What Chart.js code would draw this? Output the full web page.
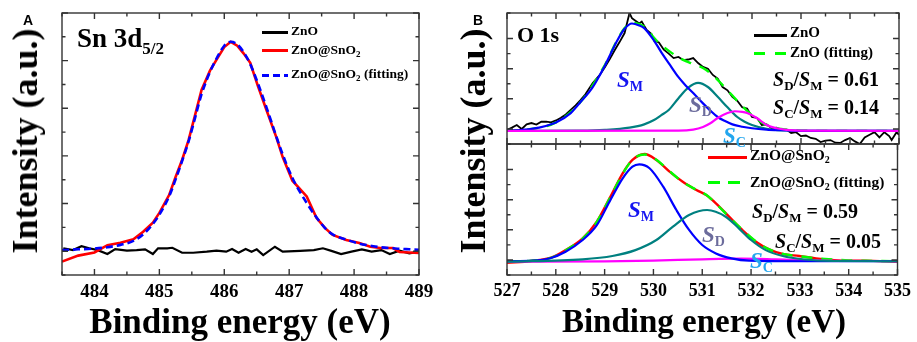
<!DOCTYPE html>
<html>
<head>
<meta charset="utf-8">
<script src="https://cdn.jsdelivr.net/npm/chart.js@4.4.1/dist/chart.umd.min.js"></script>
<style>
  body { margin: 0; background: #fff; }
  #wrap { position: relative; width: 917px; height: 342px; overflow: hidden; background: #fff; }
  canvas { position: absolute; }
  .t { position: absolute; line-height: 1; white-space: nowrap; font-family: 'Liberation Serif', 'Times New Roman', serif; font-weight: bold; color: #000; z-index: 5; }
  .t sub { vertical-align: baseline; position: relative; }
  .panel { font-family: 'Liberation Sans', Arial, sans-serif; font-size: 14px; }
  .ytitle { font-size: 36px; transform: translate(-50%, -50%) rotate(-90deg); }
  .xtitle { transform: translateX(-50%); }
  .lg { position: absolute; height: 2.5px; z-index: 5; }
  .s { font-style: italic; }
</style>
</head>
<body>
<div id="wrap">
  <canvas id="chartA" width="440" height="342" style="left:0;top:0"></canvas>
  <canvas id="chartB1" width="457" height="160" style="left:460px;top:0"></canvas>
  <canvas id="chartB2" width="457" height="212" style="left:460px;top:130px"></canvas>

  <!-- panel A texts -->
  <div class="t panel" style="left:23px;top:13px">A</div>
  <div class="t" style="left:77px;top:25px;font-size:27px">Sn 3d<sub style="font-size:17px;top:7px">5/2</sub></div>
  <div class="lg" style="left:262px;top:31px;width:26px;background:#000"></div>
  <div class="lg" style="left:262px;top:49px;width:26px;background:#f00"></div>
  <div class="lg" style="left:262px;top:74px;width:26px;background:repeating-linear-gradient(to right,#00f 0 7px,transparent 7px 11px)"></div>
  <div class="t" style="left:291px;top:24px;font-size:13.5px">ZnO</div>
  <div class="t" style="left:291px;top:43px;font-size:13.5px">ZnO@SnO<sub style="font-size:9px;top:3px">2</sub></div>
  <div class="t" style="left:291px;top:67px;font-size:13.5px">ZnO@SnO<sub style="font-size:9px;top:3px">2</sub> (fitting)</div>
  <div class="t ytitle" style="left:25px;top:141px">Intensity (a.u.)</div>
  <div class="t xtitle" style="left:240px;top:304px;font-size:35px">Binding energy (eV)</div>

  <!-- panel B texts -->
  <div class="t panel" style="left:473px;top:13px">B</div>
  <div class="t" style="left:517px;top:24px;font-size:22px">O 1s</div>
  <div class="lg" style="left:754px;top:34px;width:33px;background:#000"></div>
  <div class="lg" style="left:754px;top:52px;width:33px;background:repeating-linear-gradient(to right,#00ff00 0 11px,transparent 11px 21px)"></div>
  <div class="t" style="left:790px;top:25px;font-size:15px">ZnO</div>
  <div class="t" style="left:790px;top:45px;font-size:15px">ZnO (fitting)</div>
  <div class="t" style="left:773px;top:69px;font-size:20px"><span class="s">S</span><sub style="font-size:13px;top:4px">D</sub>/<span class="s">S</span><sub style="font-size:13px;top:4px">M</sub> = 0.61</div>
  <div class="t" style="left:773px;top:97px;font-size:20px"><span class="s">S</span><sub style="font-size:13px;top:4px">C</sub>/<span class="s">S</span><sub style="font-size:13px;top:4px">M</sub> = 0.14</div>
  <div class="t" style="left:617px;top:68px;font-size:23px;color:#1414f0"><span class="s">S</span><sub style="font-size:14px;top:4px">M</sub></div>
  <div class="t" style="left:689px;top:93px;font-size:23px;color:#6c6c9c"><span class="s">S</span><sub style="font-size:14px;top:4px">D</sub></div>
  <div class="t" style="left:723px;top:124px;font-size:23px;color:#23a6ee"><span class="s">S</span><sub style="font-size:14px;top:4px">C</sub></div>

  <div class="lg" style="left:708px;top:156px;width:39px;background:#f00"></div>
  <div class="lg" style="left:708px;top:181px;width:39px;background:repeating-linear-gradient(to right,#00ff00 0 12px,transparent 12px 20px)"></div>
  <div class="t" style="left:750px;top:147px;font-size:15.5px">ZnO@SnO<sub style="font-size:10px;top:3px">2</sub></div>
  <div class="t" style="left:750px;top:174px;font-size:15.5px">ZnO@SnO<sub style="font-size:10px;top:3px">2</sub> (fitting)</div>
  <div class="t" style="left:752px;top:201px;font-size:20px"><span class="s">S</span><sub style="font-size:13px;top:4px">D</sub>/<span class="s">S</span><sub style="font-size:13px;top:4px">M</sub> = 0.59</div>
  <div class="t" style="left:775px;top:231px;font-size:20px"><span class="s">S</span><sub style="font-size:13px;top:4px">C</sub>/<span class="s">S</span><sub style="font-size:13px;top:4px">M</sub> = 0.05</div>
  <div class="t" style="left:628px;top:198px;font-size:23px;color:#1414f0"><span class="s">S</span><sub style="font-size:14px;top:4px">M</sub></div>
  <div class="t" style="left:702px;top:223px;font-size:23px;color:#6c6c9c"><span class="s">S</span><sub style="font-size:14px;top:4px">D</sub></div>
  <div class="t" style="left:750px;top:249px;font-size:23px;color:#23a6ee"><span class="s">S</span><sub style="font-size:14px;top:4px">C</sub></div>
  <div class="t ytitle" style="left:473px;top:141px">Intensity (a.u.)</div>
  <div class="t xtitle" style="left:704px;top:305px;font-size:33px">Binding energy (eV)</div>
</div>

<script>
/* ---- DATA : panel A, Sn 3d5/2 ---- */
const aTickLabels = [484, 485, 486, 487, 488, 489];

const snEv = [483.5, 483.75, 484.0, 484.2, 484.4, 484.6, 484.75, 484.9, 485.0, 485.15, 485.25, 485.35, 485.45,
  485.55, 485.65, 485.78, 485.9, 486.0, 486.1, 486.2, 486.3, 486.4, 486.52, 486.65, 486.8, 486.9, 487.05,
  487.27, 487.42, 487.55, 487.67, 487.88, 488.08, 488.25, 488.4, 488.6, 488.7, 488.85, 489.0];
const snRaw = [5.1, 7.4, 8.6, 11.4, 12.3, 13.6, 16.5, 20.0, 23.7, 30.5, 37.4, 43.9, 51.5,
  61, 70.6, 78, 83, 87, 89, 87.5, 84.5, 81, 72, 63, 52.7, 45, 36,
  30, 21.8, 18, 15.3, 13.4, 12.2, 10.8, 10.3, 10.3, 8.8, 8.6, 8.4];
const snFit = [9.5, 9.8, 10.1, 10.6, 11.5, 13, 15.5, 19.5, 23, 30, 36.5, 43.5, 51,
  60, 69, 77.5, 83.5, 87.5, 89, 88, 85, 80.5, 73, 64, 53, 46, 37,
  27.5, 22, 18, 15.5, 13.5, 12, 11.2, 10.6, 10.2, 10, 9.8, 9.6];

const znoEvA = [483.52, 483.67, 483.8, 483.92, 484.05, 484.2, 484.32, 484.5, 484.65, 484.78, 484.9, 484.98,
  485.12, 485.2, 485.35, 485.52, 485.73, 485.88, 486.03, 486.12, 486.22, 486.33, 486.42, 486.5, 486.6,
  486.78, 486.9, 487.17, 487.38, 487.52, 487.65, 487.8, 487.96, 488.12, 488.27, 488.42, 488.55, 488.7,
  488.85, 489.0];
const znoRawA = [10.2, 9.5, 11, 10.2, 9.5, 8, 9.9, 9.3, 9.5, 9.8, 8, 10.2,
  10.2, 10.4, 8.5, 8.5, 8.9, 9.3, 8.9, 9.9, 8.5, 9.9, 8.9, 9.8, 7.6,
  10.8, 8.9, 9.2, 9.5, 10.2, 9.2, 8, 8.9, 9.8, 8.9, 9.5, 8, 9.3,
  8.3, 8.9];

/* ---- DATA : panel B, O 1s ---- */
const bTickLabels = [527, 528, 529, 530, 531, 532, 533, 534, 535];

// ZnO (top)
const oZnoEv = [527.0, 527.1, 527.2, 527.3, 527.4, 527.5, 527.6, 527.7, 527.8, 527.9, 528.0, 528.1, 528.2,
  528.3, 528.4, 528.5, 528.6, 528.75, 528.9, 529.0, 529.1, 529.2, 529.3, 529.4, 529.5, 529.55, 529.6,
  529.7, 529.75, 529.85, 529.95, 530.0, 530.1, 530.2, 530.3, 530.4, 530.5, 530.6, 530.7, 530.8, 530.9,
  531.0, 531.1, 531.2, 531.3, 531.4, 531.5, 531.6, 531.7, 531.8, 531.9, 532.0, 532.1, 532.2, 532.3,
  532.4, 532.5, 532.6, 532.7, 532.8, 532.9, 533.0, 533.1, 533.2, 533.3, 533.4, 533.5, 533.6, 533.7,
  533.8, 533.9, 534.0, 534.1, 534.2, 534.3, 534.4, 534.5, 534.6, 534.7, 534.8, 534.85, 534.95, 535.0];
const oZnoRaw = [10.7, 12.5, 14.5, 11.5, 15, 16, 14.8, 17, 17, 16.5, 18, 20, 22.5,
  26, 29.5, 33.6, 38, 46.6, 53, 58.8, 65, 71.8, 78, 84.7, 100, 96, 94.7,
  92, 93.5, 87, 84, 79, 77.5, 72, 69, 65.6, 66.5, 64, 64.5, 65.6, 61.8,
  58.8, 57.5, 52.7, 50, 43.5, 41, 35.9, 33, 28, 27, 20.6, 20, 14.5, 15,
  12, 12.5, 10.7, 11, 8.4, 9, 6, 6.5, 4.6, 4, 1.5, 2.5, 3, 1,
  0.8, 3, 4.6, 2, 0, 5, 7, 9, 5, 9, 6, 3, 9, 7];

const oZnoFitEv = [527.0, 527.5, 528.0, 528.5, 529.0, 529.25, 529.4, 529.55, 529.7, 529.85, 530.0, 530.2,
  530.4, 530.5, 530.8, 531.0, 531.2, 531.4, 531.6, 531.8, 532.0, 532.2, 532.4, 532.6, 532.8, 533.0,
  533.5, 535.0];
const oZnoFit = [10, 11.5, 16.5, 32, 60.5, 79.5, 88.5, 92.5, 91.5, 88, 81, 74,
  68.5, 66, 61, 58, 52.5, 45, 37, 29, 22, 16.5, 13, 11.5, 10.6, 10.2,
  10, 10];

const smEvTop = [527.0, 527.5, 528.0, 528.3, 528.5, 528.75, 529.0, 529.25, 529.4, 529.55, 529.7, 529.8, 530.0,
  530.15, 530.3, 530.5, 530.65, 530.8, 531.0, 531.15, 531.3, 531.45, 531.6, 531.8, 532.0, 532.3, 532.6,
  533.0, 535.0];
const smTop = [10, 11.5, 16.5, 23.6, 32, 43.5, 60, 79, 88, 92, 90.5, 88.5, 79,
  70, 61.8, 51, 44.5, 38.9, 31, 25.5, 20.6, 17.5, 15, 13.2, 12, 11, 10.5,
  10, 10];
const sdEvTop = [527.0, 528.5, 529.0, 529.5, 529.8, 530.0, 530.15, 530.3, 530.5, 530.7, 530.9, 531.1, 531.3,
  531.5, 531.7, 531.85, 532.0, 532.3, 532.7, 533.0, 535.0];
const sdTop = [10, 10.2, 10.8, 12.5, 15, 18.3, 22, 26, 35, 43, 46.6, 43.5, 36,
  28, 20.6, 17, 14.5, 11.5, 10.3, 10, 10];
const scEvTop = [527.0, 530.5, 530.8, 531.0, 531.15, 531.3, 531.5, 531.65, 531.8, 531.9, 532.1, 532.3, 532.5,
  532.7, 533.0, 535.0];
const scTop = [10, 10.2, 11, 13, 15.8, 19.8, 23.6, 25, 24.5, 23.6, 19.8, 14.5, 12,
  10.8, 10.2, 10];

// ZnO@SnO2 (bottom)
const oSnEv = [527.0, 527.5, 527.9, 528.2, 528.55, 528.84, 529.1, 529.37, 529.57, 529.82, 530.06, 530.33,
  530.6, 530.88, 531.08, 531.28, 531.55, 531.82, 532.1, 532.37, 532.65, 532.99, 533.33, 534.0, 534.5, 535.0];
const oSnRaw = [9.4, 10.7, 13.2, 19, 28, 40.7, 58.5, 77.6, 87.8, 92.4, 87.8, 78.9,
  71.2, 64.9, 61, 54.7, 44.5, 34.4, 25.4, 19.6, 16, 14.5, 12.7, 10.9, 10.8, 10.2];
const oSnFit = [10.4, 10.9, 13.0, 18.8, 27.8, 40.5, 58.2, 77.2, 88, 92, 88, 79.2,
  71, 65, 61.2, 54.5, 44.3, 34.6, 25.6, 19.5, 16.1, 14.3, 12.8, 11.2, 10.8, 10.5];

const smEvBot = [527.0, 527.53, 527.9, 528.2, 528.55, 528.84, 529.1, 529.37, 529.57, 529.71, 529.92, 530.2,
  530.47, 530.73, 531.0, 531.28, 531.6, 531.96, 533.0, 535.0];
const smBot = [10.5, 10.9, 13, 17.8, 26.7, 38, 56, 73.8, 82.7, 84.5, 81.5, 67.4,
  49.6, 34.4, 22.9, 16.5, 12.7, 10.9, 10.5, 10.5];
const sdEvBot = [527.0, 528.55, 529.16, 529.63, 530.06, 530.4, 530.73, 531.1, 531.48, 531.75, 532.0, 532.3,
  532.65, 533.06, 533.67, 535.0];
const sdBot = [10.2, 12, 14.5, 19, 26.7, 36.9, 45.8, 49.6, 44.5, 35.6, 26.7, 19,
  14.5, 12, 10.7, 10.5];
const scEvBot = [527.0, 529.0, 530.0, 531.0, 531.8, 532.5, 533.5, 535.0];
const scBot = [10.2, 10.4, 11, 12, 12.5, 12, 11, 10.6];

/* ---- STYLE HELPERS ---- */
const SERIF = "'Liberation Serif', 'Times New Roman', serif";
const pts = (xs, ys) => xs.map((x, i) => ({ x, y: ys[i] }));

function line(data, color, width, extra) {
  return Object.assign({
    data, borderColor: color, borderWidth: width, pointRadius: 0, fill: false, tension: 0
  }, extra || {});
}
const smooth = { cubicInterpolationMode: 'monotone' };

// frame + inward ticks on all four sides, from the chart's own scales
const frameTicks = {
  id: 'frameTicks',
  afterDraw(chart) {
    const { ctx, chartArea: a, scales: { x, y } } = chart;
    ctx.save();
    ctx.strokeStyle = '#333';
    ctx.lineWidth = 1.4;
    ctx.beginPath();
    x.ticks.forEach(t => {
      const px = x.getPixelForValue(t.value);
      const len = Number.isInteger(t.value) ? 6 : 3.5;
      ctx.moveTo(px, a.bottom); ctx.lineTo(px, a.bottom - len);
      ctx.moveTo(px, a.top); ctx.lineTo(px, a.top + len);
    });
    y.ticks.forEach((t, i) => {
      const py = y.getPixelForValue(t.value);
      const len = i % 2 ? 6 : 3.5;
      ctx.moveTo(a.left, py); ctx.lineTo(a.left + len, py);
      ctx.moveTo(a.right, py); ctx.lineTo(a.right - len, py);
    });
    ctx.stroke();
    ctx.strokeRect(a.left, a.top, a.right - a.left, a.bottom - a.top);
    ctx.restore();
  }
};

function buildChart(id, datasets, o) {
  return new Chart(document.getElementById(id), {
    type: 'line',
    data: { datasets },
    plugins: [frameTicks],
    options: {
      responsive: false, animation: false, devicePixelRatio: 1,
      layout: { padding: o.padding },
      plugins: { legend: { display: false }, tooltip: { enabled: false } },
      scales: {
        x: {
          type: 'linear', min: o.xMin, max: o.xMax,
          // fixed height so the tick labels have room (labels are clipped to the scale box)
          afterFit: s => { s.height = o.xHeight; },
          grid: { display: false, drawTicks: false }, border: { display: false },
          ticks: {
            display: o.showX, stepSize: 0.5, autoSkip: false, maxRotation: 0, padding: o.tickPad,
            color: '#000', font: { family: SERIF, weight: 'bold', size: o.tickSize },
            callback: v => o.labels.includes(v) ? String(v) : ''
          }
        },
        y: {
          min: 0, max: 100,
          afterFit: s => { s.width = 0; },
          grid: { display: false, drawTicks: false }, border: { display: false },
          ticks: Object.assign({ display: false }, o.yTicks)
        }
      }
    }
  });
}

/* ---- PANEL A ---- */
buildChart('chartA', [
  line(pts(snEv, snFit), '#0000ff', 2.6, Object.assign({ borderDash: [7, 4] }, smooth)),
  line(pts(snEv, snRaw), '#ff0000', 2.6),
  line(pts(znoEvA, znoRawA), '#000000', 2.2)
], {
  padding: { left: 62, top: 13, right: 21, bottom: 0 }, xHeight: 67,
  xMin: 483.5, xMax: 489, showX: true, tickPad: 6, tickSize: 19,
  labels: aTickLabels, yTicks: { count: 12 }
});

/* ---- PANEL B, top: ZnO ---- */
buildChart('chartB1', [
  line(pts(scEvTop, scTop), '#ff00ff', 2.2, smooth),
  line(pts(smEvTop, smTop), '#0000ff', 2.2, smooth),
  line(pts(sdEvTop, sdTop), '#008080', 2.2, smooth),
  line(pts(oZnoFitEv, oZnoFit), '#00ff00', 2.4, Object.assign({ borderDash: [11, 9] }, smooth)),
  line(pts(oZnoEv, oZnoRaw), '#000000', 1.8)
], {
  padding: { left: 47, top: 13, right: 18, bottom: 16 }, xHeight: 0,
  xMin: 527, xMax: 535, showX: false, tickPad: 6, tickSize: 18,
  labels: bTickLabels, yTicks: { stepSize: 11.5 }
});

/* ---- PANEL B, bottom: ZnO@SnO2 ---- */
buildChart('chartB2', [
  line(pts(sdEvBot, sdBot), '#008080', 2.2, smooth),
  line(pts(smEvBot, smBot), '#0000ff', 2.2, smooth),
  line(pts(scEvBot, scBot), '#ff00ff', 2.2, smooth),
  line(pts(oSnEv, oSnFit), '#00ff00', 2.4, Object.assign({ borderDash: [11, 9] }, smooth)),
  line(pts(oSnEv, oSnRaw), '#ff0000', 2.4, smooth)
], {
  padding: { left: 47, top: 14, right: 18, bottom: 0 }, xHeight: 67,
  xMin: 527, xMax: 535, showX: true, tickPad: 6, tickSize: 18,
  labels: bTickLabels, yTicks: { stepSize: 11.5 }
});
</script>
</body>
</html>
